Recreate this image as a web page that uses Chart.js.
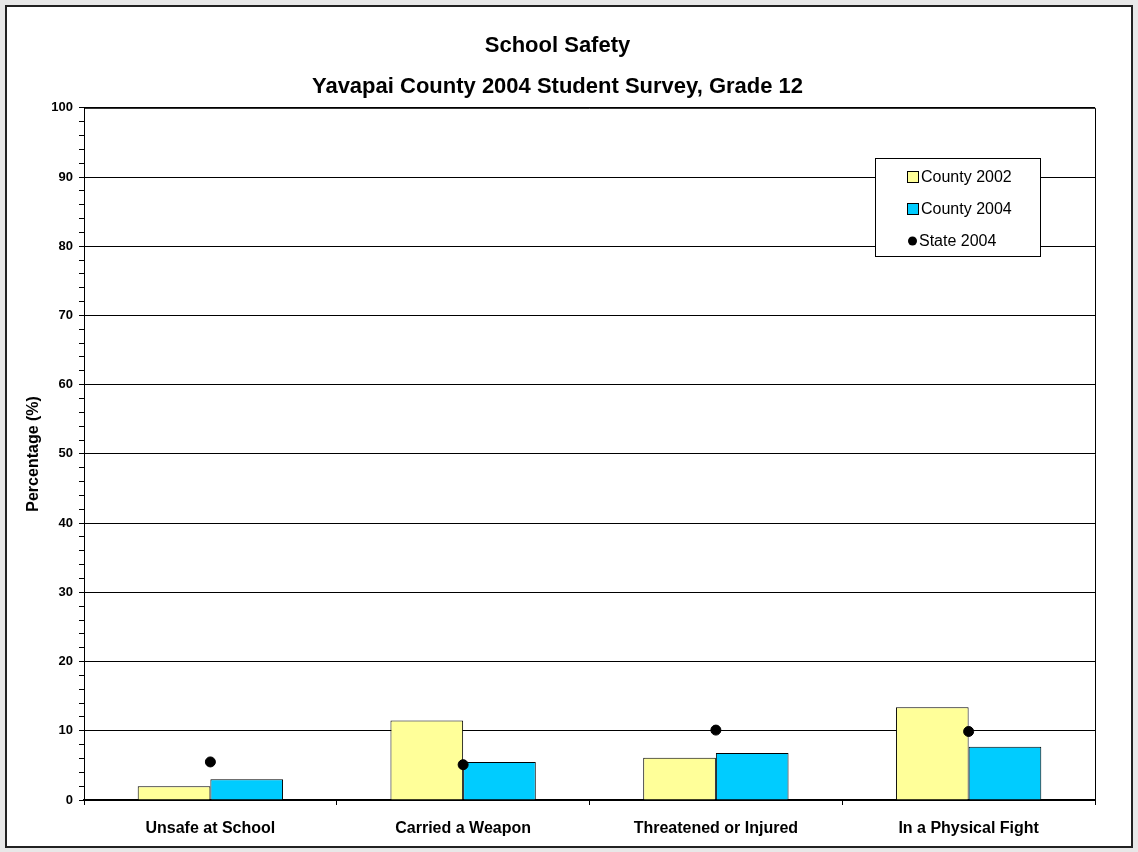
<!DOCTYPE html>
<html>
<head>
<meta charset="utf-8">
<script src="https://cdn.jsdelivr.net/npm/chart.js@4.4.1/dist/chart.umd.min.js"></script>
<style>
  html, body { margin: 0; padding: 0; background: #e8e8e8; }
  #wrap { width: 1138px; height: 852px; }
</style>
</head>
<body>
<div id="wrap"><canvas id="chart" width="1138" height="852"></canvas></div>
<script>
const categories = ['Unsafe at School', 'Carried a Weapon', 'Threatened or Injured', 'In a Physical Fight'];
const county2002 = [2.0, 11.5, 6.1, 13.4];
const county2004 = [3.0, 5.5, 6.8, 7.7];
const state2004 = [5.5, 5.1, 10.1, 9.9];
const seriesNames = ['County 2002', 'County 2004', 'State 2004'];

const FONT = '"Liberation Sans", Arial, sans-serif';

// frame around the whole picture, plot box, and the legend inside the plot
const framePlugin = {
  id: 'frame',
  beforeDraw(chart) {
    const c = chart.ctx;
    c.save();
    c.fillStyle = '#e8e8e8';
    c.fillRect(0, 0, chart.width, chart.height);
    c.fillStyle = '#ffffff';
    c.fillRect(6, 6, chart.width - 12, chart.height - 11);
    c.strokeStyle = '#222';
    c.lineWidth = 2;
    c.strokeRect(6, 6, chart.width - 12, chart.height - 11);
    c.restore();
  },
  afterDraw(chart) {
    const c = chart.ctx;
    const a = chart.chartArea;
    c.save();
    c.strokeStyle = '#000';
    c.lineWidth = 1;
    c.beginPath();
    c.moveTo(a.left, a.top + 0.5);
    c.lineTo(a.right + 0.5, a.top + 0.5);
    c.lineTo(a.right + 0.5, a.bottom);
    c.stroke();

    // legend box
    const x = 875, y = 158, w = 165, h = 98;
    c.fillStyle = '#fff';
    c.fillRect(x, y, w, h);
    c.strokeStyle = '#000';
    c.strokeRect(x + 0.5, y + 0.5, w, h);
    c.font = '16px ' + FONT;
    c.textBaseline = 'middle';
    const rows = [177, 209, 241];
    chart.data.datasets.forEach((ds, i) => {
      const ry = rows[i];
      if (ds.type === 'line') {
        c.fillStyle = '#000';
        c.beginPath();
        c.arc(912.5, ry, 4.5, 0, Math.PI * 2);
        c.fill();
      } else {
        c.fillStyle = ds.backgroundColor;
        c.fillRect(907.5, ry - 5.5, 11, 11);
        c.strokeStyle = '#000';
        c.strokeRect(907.5, ry - 5.5, 11, 11);
      }
      c.fillStyle = '#000';
      c.fillText(ds.label, ds.type === 'line' ? 919 : 921, ry + 1);
    });
    c.restore();
  }
};

new Chart(document.getElementById('chart'), {
  type: 'bar',
  data: {
    labels: categories,
    datasets: [
      {
        label: seriesNames[0],
        data: county2002,
        backgroundColor: '#FFFF99',
        borderColor: '#000',
        borderWidth: 1,
        categoryPercentage: 0.575,
        barPercentage: 1.0,
        order: 2
      },
      {
        label: seriesNames[1],
        data: county2004,
        backgroundColor: '#00CCFF',
        borderColor: '#000',
        borderWidth: 1,
        categoryPercentage: 0.575,
        barPercentage: 1.0,
        order: 2
      },
      {
        type: 'line',
        label: seriesNames[2],
        data: state2004,
        showLine: false,
        pointRadius: 5,
        pointBackgroundColor: '#000',
        pointBorderColor: '#000',
        order: 1
      }
    ]
  },
  options: {
    responsive: false,
    animation: false,
    layout: { padding: { left: 20, right: 43, top: 0, bottom: 0 } },
    plugins: {
      legend: { display: false },
      tooltip: { enabled: false },
      title: {
        display: true,
        text: 'School Safety',
        color: '#000',
        font: { family: FONT, size: 22, weight: 'bold' },
        padding: { top: 33, bottom: 14 }
      },
      subtitle: {
        display: true,
        text: 'Yavapai County 2004 Student Survey, Grade 12',
        color: '#000',
        font: { family: FONT, size: 22, weight: 'bold' },
        padding: { top: 0, bottom: 8 }
      }
    },
    scales: {
      x: {
        offset: true,
        grid: {
          offset: true,
          drawOnChartArea: false,
          tickLength: 5,
          tickColor: '#000'
        },
        border: { color: '#000', width: 2 },
        ticks: {
          color: '#000',
          padding: 14,
          font: { family: FONT, size: 16, weight: 'bold' }
        },
        afterFit(s) { s.height = 52; }
      },
      y: {
        min: 0,
        max: 100,
        ticks: {
          stepSize: 2,
          autoSkip: false,
          color: '#000',
          padding: 6,
          font: { family: FONT, size: 13, weight: 'bold' },
          callback: v => (v % 10 === 0 ? v : '')
        },
        grid: {
          color: ctx => (ctx.tick && ctx.tick.value % 10 === 0 && ctx.tick.value !== 0 ? '#000' : 'rgba(0,0,0,0)'),
          tickColor: '#000',
          tickLength: 5
        },
        border: { color: '#000', width: 1 },
        title: {
          display: true,
          text: 'Percentage (%)',
          color: '#000',
          font: { family: FONT, size: 16, weight: 'bold' },
          padding: { top: 4, bottom: 5 }
        },
        afterFit(s) { s.width = 64; }
      }
    }
  },
  plugins: [framePlugin]
});
</script>
</body>
</html>
